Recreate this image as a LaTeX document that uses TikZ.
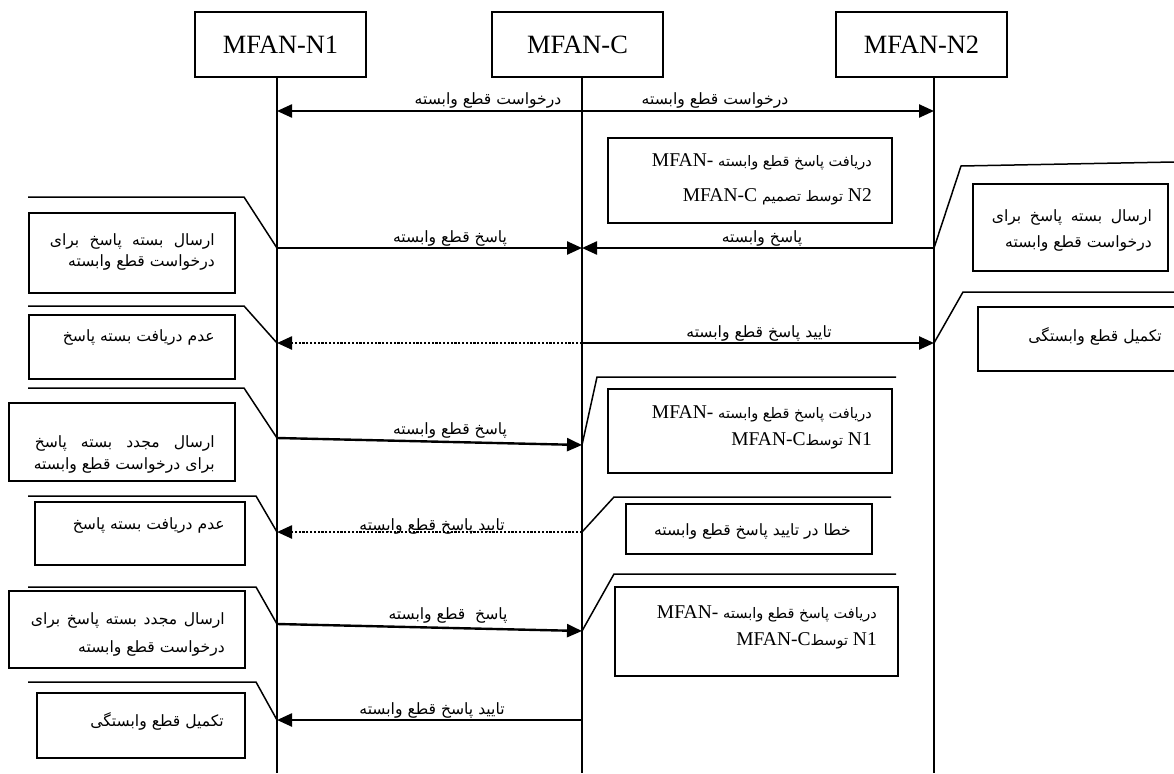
\documentclass[tikz,border=0pt]{standalone}
\usepackage{fontspec}
\setmainfont{Liberation Serif}
\newfontfamily\farsi[Script=Arabic]{DejaVu Sans}
\TeXXeTstate=1
\usetikzlibrary{arrows.meta}

% Persian text helpers
\newcommand{\fasize}{\fontsize{15.6}{18}\selectfont}
\newcommand{\fa}[1]{{\farsi\fasize\beginR#1\endR}}
\newcommand{\fac}[1]{{\farsi\fontsize{14.5}{17}\selectfont\beginR#1\endR}}
\newcommand{\ws}{\hskip 5pt plus 1fil minus 3pt}
\newcommand{\faj}[2]{\leavevmode\hbox to #1{\farsi\fasize\beginR#2\endR}}

\tikzset{
  hdr/.style={draw, line width=1.5pt, minimum width=171pt, minimum height=65pt,
              inner sep=0pt, font=\fontsize{26.4}{30}\selectfont},
  life/.style={line width=1.5pt},
  msg/.style={line width=2.4pt, ->},
  msgd/.style={msg, dash pattern=on 2.2pt off 1.6pt},
  note/.style={draw, line width=1.5pt, inner sep=0pt, anchor=north west},
  callout/.style={line width=1.5pt},
  lbl/.style={inner sep=0pt, anchor=base},
  body/.style={inner sep=0pt, align=right, anchor=east,
               font=\fontsize{19.5}{#1}\selectfont},
  body/.default=24,
}

\begin{document}
\begin{tikzpicture}[x=1pt, y=-1pt, >={Triangle[length=15pt,width=13pt]}]
\useasboundingbox (0,0) rectangle (1174,773);
\fill[white] (0,0) rectangle (1174,773);
\clip (0,0) rectangle (1174,773);

% participants
\node[hdr] (N1) at (280.5,44.5) {MFAN-N1};
\node[hdr] (C)  at (577.5,44.5) {MFAN-C};
\node[hdr] (N2) at (921.5,44.5) {MFAN-N2};

% lifelines
\coordinate (x1) at (277,773);
\coordinate (xc) at (582,773);
\coordinate (x2) at (934,773);
\draw[life] (x1 |- N1.south) -- (x1);
\draw[life] (xc |- C.south)  -- (xc);
\draw[life] (x2 |- N2.south) -- (x2);

% message end points
\coordinate (m1a) at (277,111); \coordinate (m1b) at (934,111);
\coordinate (m2a) at (277,248); \coordinate (m2c) at (582,248); \coordinate (m2b) at (934,248);
\coordinate (m3a) at (277,343); \coordinate (m3c) at (582,343); \coordinate (m3b) at (934,343);
\coordinate (m4a) at (277,438); \coordinate (m4c) at (582,445);
\coordinate (m5a) at (277,532); \coordinate (m5c) at (582,532);
\coordinate (m6a) at (277,624); \coordinate (m6c) at (582,631);
\coordinate (m7a) at (277,720); \coordinate (m7c) at (582,720);

% messages
\draw[msg, <->] (m1a) -- (m1b);
\node[lbl] (t1a) at (488,105) {\fa{درخواست قطع وابسته}};
\node[lbl] (t1b) at (715,105) {\fa{درخواست قطع وابسته}};

\draw[msg] (m2a) -- (m2c);
\draw[msg] (m2b) -- (m2c);
\node[lbl] (t2a) at (450,242) {\fa{پاسخ قطع وابسته}};
\node[lbl] (t2b) at (762,242) {\fa{پاسخ وابسته}};

\draw[msgd] (m3c) -- (m3a);
\draw[msg] (m3c) -- (m3b);
\node[lbl] (t3b) at (759,337) {\fa{تایید پاسخ قطع وابسته}};

\draw[msg] (m4a) -- (m4c);
\node[lbl] (t4) at (450,434) {\fa{پاسخ قطع وابسته}};

\draw[msgd] (m5c) -- (m5a);
\node[lbl] (t5) at (432,530) {\fa{تایید پاسخ قطع وابسته}};

\draw[msg] (m6a) -- (m6c);
\node[lbl] (t6) at (448,619) {\fa{پاسخ\ \ قطع وابسته}};

\draw[msg] (m7c) -- (m7a);
\node[lbl] (t7) at (432,714) {\fa{تایید پاسخ قطع وابسته}};

% notes beside MFAN-N1
\node[note, minimum width=206pt, minimum height=80pt] (a1) at (28,212) {};
\node[note, minimum width=206pt, minimum height=64pt] (a2) at (28,314) {};
\node[note, minimum width=226pt, minimum height=78pt] (a3) at (8,402) {};
\node[note, minimum width=210pt, minimum height=63pt] (a4) at (34,501) {};
\node[note, minimum width=236pt, minimum height=77pt] (a5) at (8,590) {};
\node[note, minimum width=208pt, minimum height=65pt] (a6) at (36,692) {};

\coordinate (a1p) at (28,197); \coordinate (a1q) at (244,197);
\coordinate (a2p) at (28,306); \coordinate (a2q) at (244,306);
\coordinate (a3p) at (28,388); \coordinate (a3q) at (244,388);
\coordinate (a4p) at (28,496); \coordinate (a4q) at (256,496);
\coordinate (a5p) at (28,587); \coordinate (a5q) at (256,587);
\coordinate (a6p) at (28,682); \coordinate (a6q) at (256,682);
\draw[callout] (a1p) -- (a1q) -- (m2a);
\draw[callout] (a2p) -- (a2q) -- (m3a);
\draw[callout] (a3p) -- (a3q) -- (m4a);
\draw[callout] (a4p) -- (a4q) -- (m5a);
\draw[callout] (a5p) -- (a5q) -- (m6a);
\draw[callout] (a6p) -- (a6q) -- (m7a);

\node[body=21] (a1t) at (215,251.5)
  {\faj{165pt}{ارسال\ws بسته\ws پاسخ\ws برای}\\ \fa{درخواست قطع وابسته}};
\node[body] (a2t) at (215,337) {\fa{عدم دریافت بسته پاسخ}};
\node[body=22] (a3t) at (215,454)
  {\faj{180pt}{ارسال\ws مجدد\ws بسته\ws پاسخ}\\ \fa{برای درخواست قطع وابسته}};
\node[body] (a4t) at (225,525) {\fa{عدم دریافت بسته پاسخ}};
\node[body=28] (a5t) at (225,634)
  {\faj{194pt}{ارسال\ws مجدد\ws بسته\ws پاسخ\ws برای}\\ \fa{درخواست قطع وابسته}};
\node[body] (a6t) at (224,721) {\fa{تکمیل قطع وابستگی}};

% notes beside MFAN-N2
\node[note, minimum width=195pt, minimum height=87pt] (b1) at (972,183) {};
\node[note, minimum width=215pt, minimum height=64pt] (b2) at (977,306) {};
\coordinate (b1p) at (961,166); \coordinate (b1q) at (1174,162);
\coordinate (b2p) at (963,292); \coordinate (b2q) at (1174,292);
\draw[callout] (m2b) -- (b1p) -- (b1q);
\draw[callout] (m3b) -- (b2p) -- (b2q);
\node[body=26] (b1t) at (1152,230)
  {\faj{160pt}{ارسال\ws بسته\ws پاسخ\ws برای}\\ \fa{درخواست قطع وابسته}};
\node[body] (b2t) at (1162,336) {\fa{تکمیل قطع وابستگی}};

% notes beside MFAN-C
\node[note, minimum width=284pt, minimum height=85pt] (c0) at (607,137) {};
\node[note, minimum width=284pt, minimum height=84pt] (c1) at (607,388) {};
\node[note, minimum width=246pt, minimum height=50pt] (c2) at (625,503) {};
\node[note, minimum width=283pt, minimum height=89pt] (c3) at (614,586) {};
\coordinate (c1p) at (597,377); \coordinate (c1q) at (896,377);
\coordinate (c2p) at (614,497); \coordinate (c2q) at (891,497);
\coordinate (c3p) at (614,574); \coordinate (c3q) at (896,574);
\draw[callout] (m4c) -- (c1p) -- (c1q);
\draw[callout] (m5c) -- (c2p) -- (c2q);
\draw[callout] (m6c) -- (c3p) -- (c3q);

\node[body=35] (c0t) at (872,179.5)
  {MFAN-\ \fac{دریافت پاسخ قطع وابسته}\\ MFAN-C \fac{توسط تصمیم} N2};
\node[body=27] (c1t) at (872,427.5)
  {MFAN-\ \fac{دریافت پاسخ قطع وابسته}\\ MFAN-C\fac{توسط} N1};
\node[body] (c2t) at (851,531) {\fa{خطا در تایید پاسخ قطع وابسته}};
\node[body=27] (c3t) at (877,627.5)
  {MFAN-\ \fac{دریافت پاسخ قطع وابسته}\\ MFAN-C\fac{توسط} N1};
\end{tikzpicture}
\end{document}
